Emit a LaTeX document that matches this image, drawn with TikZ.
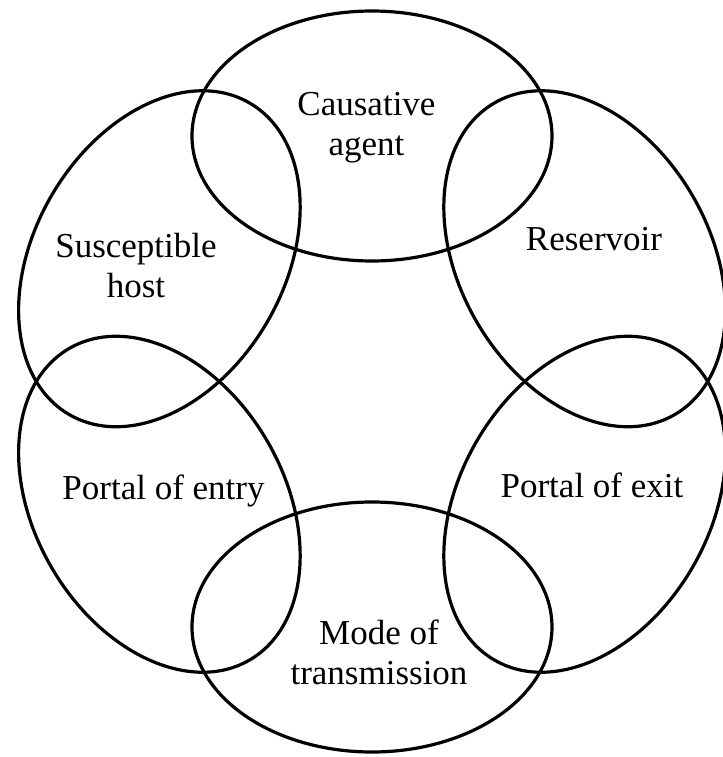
\documentclass[tikz,border=0pt]{standalone}
\usepackage{fontspec}
\setmainfont{Liberation Serif}

\begin{document}
\begin{tikzpicture}[line cap=round,line join=round,x=0.5pt,y=0.5pt,
		ring/.style={line width=1.6pt},
		lbl/.style={align=center,font=\fontsize{17.5}{20}\selectfont}]
		\useasboundingbox (-372,-375.5) rectangle (351,381.5);
		\clip (-372,-375.5) rectangle (351,381.5);
		% the six links, set round a ring
		\draw [ring] (90:245.5) ellipse [x radius=180,y radius=125];
		\draw [ring] (30:245.5) ellipse [x radius=180,y radius=125,rotate=-60];
		\draw [ring] (150:245.5) ellipse [x radius=180,y radius=125,rotate=60];
		\draw [ring] (210:245.5) ellipse [x radius=180,y radius=125,rotate=-60];
		\draw [ring] (330:245.5) ellipse [x radius=180,y radius=125,rotate=60];
		\draw [ring] (270:245.5) ellipse [x radius=180,y radius=125];
		% labels
		\node [lbl] (agent) at (-5.5,253.5) {Causative\\agent};
		\node [lbl] (reservoir) at (222,142.5) {Reservoir};
		\node [lbl] (host) at (-236,115.5) {Susceptible\\host};
		\node [lbl] (entry) at (-208.5,-109.5) {Portal of entry};
		\node [lbl] (exit) at (220,-103.5) {Portal of exit};
		\node [lbl] (mode) at (7,-270.5) {Mode of\\transmission};
	\end{tikzpicture}
\end{document}
